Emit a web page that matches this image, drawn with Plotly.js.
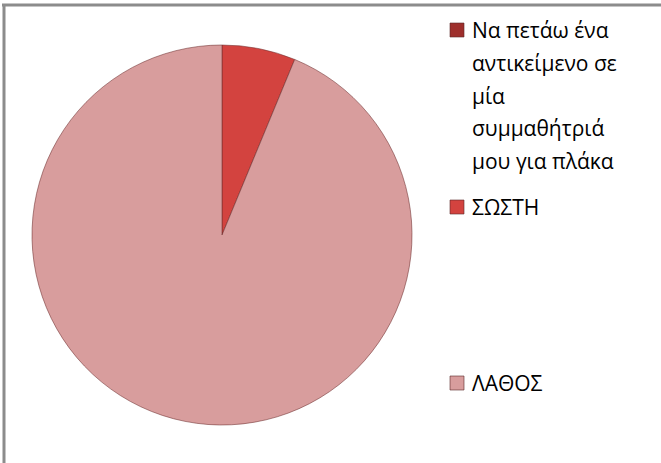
<!DOCTYPE html>
<html>
<head>
<meta charset="utf-8">
<script src="https://cdn.plot.ly/plotly-3.0.1.min.js"></script>
<style>html,body{margin:0;padding:0;background:#fff;}#chart{width:661px;height:463px;}</style>
</head>
<body>
<div id="chart"></div>
<script>
// Data
var labels = ['Να πετάω ένα αντικείμενο σε μία συμμαθήτριά μου για πλάκα', 'ΣΩΣΤΗ', 'ΛΑΘΟΣ'];
var values = [0, 1, 15];
var sliceColors = ['#9e2f2c', '#d3433f', '#d89d9d'];
// Legend text as wrapped lines (one list per category)
var legendLines = [
  ['Να πετάω ένα', 'αντικείμενο σε', 'μία', 'συμμαθήτριά', 'μου για πλάκα'],
  ['ΣΩΣΤΗ'],
  ['ΛΑΘΟΣ']
];

var W = 661, H = 463;
function px(x){ return x / W; }
function py(y){ return 1 - y / H; }

var trace = {
  type: 'pie',
  labels: labels,
  values: values,
  sort: false,
  direction: 'clockwise',
  rotation: 0,
  textinfo: 'none',
  hoverinfo: 'label+value+percent',
  showlegend: false,
  marker: { colors: sliceColors, line: { color: 'rgba(110,45,45,0.55)', width: 1 } },
  domain: { x: [px(222 - 190), px(222 + 190)], y: [py(235 + 190), py(235 - 190)] }
};

var annotations = [];
var shapes = [];
// legend layout (Excel style: entries spread vertically)
var entryTop = [30, 207, 383];
var lineGap = 32.8;
for (var i = 0; i < legendLines.length; i++) {
  for (var j = 0; j < legendLines[i].length; j++) {
    annotations.push({
      xref: 'paper', yref: 'paper',
      x: px(470), y: py(entryTop[i] + j * lineGap),
      xanchor: 'left', yanchor: 'middle',
      text: legendLines[i][j], showarrow: false,
      font: { family: '"Open Sans", "Noto Sans", sans-serif', size: 21, color: '#000' }
    });
  }
  shapes.push({
    type: 'rect', xref: 'paper', yref: 'paper',
    x0: px(450), x1: px(464), y0: py(entryTop[i] + 7), y1: py(entryTop[i] - 7),
    fillcolor: sliceColors[i], line: { color: 'rgba(90,40,40,0.6)', width: 1 }
  });
}
// chart area border (top and left visible)
shapes.push({ type: 'line', xref: 'paper', yref: 'paper', x0: px(2), x1: 1, y0: py(5), y1: py(5), line: { color: '#8c8c8c', width: 3 } });
shapes.push({ type: 'line', xref: 'paper', yref: 'paper', x0: px(4), x1: px(4), y0: py(4), y1: 0, line: { color: '#8c8c8c', width: 3 } });

var layout = {
  width: W, height: H,
  margin: { l: 0, r: 0, t: 0, b: 0 },
  paper_bgcolor: '#ffffff',
  showlegend: false,
  annotations: annotations,
  shapes: shapes
};

Plotly.newPlot('chart', [trace], layout, { displayModeBar: false, staticPlot: true });
</script>
</body>
</html>
